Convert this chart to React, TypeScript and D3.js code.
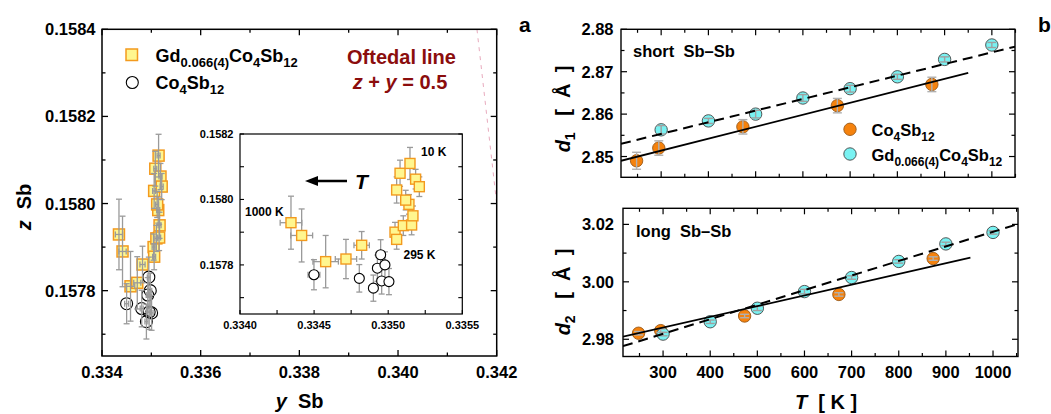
import React from "react";
import * as d3 from "d3";

// ---------- Panel a : positional parameters (y, z) of Sb ----------
const gdY = [0.334344, 0.334416, 0.334578, 0.334715, 0.334821, 0.335046, 0.335057, 0.335102, 0.335158, 0.335167, 0.33514, 0.335118, 0.335057, 0.33508, 0.335147, 0.335185, 0.33521];
const gdZ = [0.157929, 0.15789, 0.15781, 0.157818, 0.15786, 0.1579, 0.157878, 0.15792, 0.157922, 0.15795, 0.157985, 0.157998, 0.158029, 0.15808, 0.15811, 0.158062, 0.158039];
const gdYErr = [0.000073, 0.000074, 0.000086, 0.000072, 0.000052, 0.00003, 0.00003, 0.00003, 0.00003, 0.00003, 0.00003, 0.00003, 0.00003, 0.00003, 0.00003, 0.00003, 0.00003];
const gdZErr = [0.000081, 0.000081, 0.00008, 0.00006, 0.000042, 0.00003, 0.00003, 0.00003, 0.00003, 0.00003, 0.00003, 0.00003, 0.00004, 0.00004, 0.000049, 0.00003, 0.00003];

const coY = [0.334499, 0.334805, 0.3349, 0.334949, 0.334927, 0.334978, 0.334956, 0.335005];
const coZ = [0.15777, 0.157759, 0.157729, 0.157831, 0.15779, 0.1578, 0.157751, 0.157749];
const coYErr = [0.00004, 0.00003, 0.00003, 0.00003, 0.00003, 0.00003, 0.00003, 0.00003];
const coZErr = [0.000046, 0.000042, 0.00004, 0.000046, 0.00004, 0.00004, 0.00004, 0.00004];

const oftedalY = [0.3416, 0.342]; // z + y = 0.5
const oftedalZ = [0.1584, 0.158];

// ---------- Panel b : Sb–Sb distances ----------
const tCo = [248, 295, 473, 673, 873];
const d1Co = [2.849, 2.852, 2.857, 2.862, 2.867];
const d1CoErr = [0.002, 0.0017, 0.0017, 0.0017, 0.0017];
const d2Co = [2.9821, 2.983, 2.9881, 2.9956, 3.0081];
const d2CoErr = [0.0006, 0.0006, 0.0006, 0.0006, 0.0006];

const tGd = [300, 400, 500, 600, 700, 800, 900, 1000];
const d1Gd = [2.8563, 2.8584, 2.86, 2.8638, 2.866, 2.8688, 2.8729, 2.8763];
const d1GdErr = [0.001, 0.0006, 0.0009, 0.0008, 0.0008, 0.0006, 0.0006, 0.0006];
const d2Gd = [2.9818, 2.9861, 2.9908, 2.9966, 3.0015, 3.0071, 3.0132, 3.0172];
const d2GdErr = [0.0006, 0.0006, 0.0008, 0.0008, 0.0006, 0.0006, 0.0006, 0.0006];

const fit1CoT = [215, 950];
const fit1CoD = [2.849, 2.8697];
const fit1GdT = [215, 1049];
const fit1GdD = [2.853, 2.8759];
const fit2CoT = [215, 952];
const fit2CoD = [2.9809, 3.0084];
const fit2GdT = [215, 1053];
const fit2GdD = [2.9776, 3.0201];

const FONT = "'Liberation Sans', Arial, Helvetica, sans-serif";
const SQ_FILL = "#fff68f";
const SQ_STROKE = "#f39a1e";
const ORANGE = "#f5820d";
const CYAN = "#79f2f2";
const ERR = "#9a9a9a";
const DARKRED = "#8b0d0d";
const NB = "\u00a0";

type Part = { t: string; sub?: boolean; it?: boolean };

function Formula(props: {
  x: number; y: number; parts: Part[]; size: number; subSize: number; shift: number;
  fill?: string; anchor?: string; transform?: string;
}) {
  const { x, y, parts, size, subSize, shift, fill = "#000", anchor = "start", transform } = props;
  let cur = 0;
  return (
    <text x={x} y={y} fontFamily={FONT} fontWeight="bold" fontSize={size} fill={fill}
      textAnchor={anchor} transform={transform}>
      {parts.map((p, i) => {
        const target = p.sub ? shift : 0;
        const dy = target - cur;
        cur = target;
        return (
          <tspan key={i} dy={dy} fontSize={p.sub ? subSize : size} fontStyle={p.it ? "italic" : "normal"}>
            {p.t}
          </tspan>
        );
      })}
    </text>
  );
}

function range(a: number, b: number, step: number) {
  const n = Math.round((b - a) / step);
  return d3.range(0, n + 1).map((i) => +(a + i * step).toFixed(8));
}

function isMult(v: number, m: number) {
  const r = v / m;
  return Math.abs(r - Math.round(r)) < 1e-6;
}

function Ticks(props: {
  xs: d3.ScaleLinear<number, number>; ys: d3.ScaleLinear<number, number>;
  xt: number[]; yt: number[]; xMajor: number; yMajor: number;
  sides: { top?: boolean; bottom?: boolean; left?: boolean; right?: boolean };
  maj?: number; min?: number; sw?: number;
}) {
  const { xs, ys, xt, yt, xMajor, yMajor, sides, maj = 6, min = 3.5, sw = 1.2 } = props;
  const [x0, x1] = xs.range();
  const [y0, y1] = ys.range(); // y0 bottom, y1 top
  const out: React.ReactNode[] = [];
  xt.forEach((v, i) => {
    const px = xs(v);
    const L = isMult(v, xMajor) ? maj : min;
    if (sides.bottom) out.push(<line key={"b" + i} x1={px} x2={px} y1={y0} y2={y0 - L} stroke="#000" strokeWidth={sw} />);
    if (sides.top) out.push(<line key={"t" + i} x1={px} x2={px} y1={y1} y2={y1 + L} stroke="#000" strokeWidth={sw} />);
  });
  yt.forEach((v, i) => {
    const py = ys(v);
    const L = isMult(v, yMajor) ? maj : min;
    if (sides.left) out.push(<line key={"l" + i} x1={x0} x2={x0 + L} y1={py} y2={py} stroke="#000" strokeWidth={sw} />);
    if (sides.right) out.push(<line key={"r" + i} x1={x1} x2={x1 - L} y1={py} y2={py} stroke="#000" strokeWidth={sw} />);
  });
  return <g>{out}</g>;
}

function ErrBar(props: { cx: number; cy: number; ex: number; ey: number; cap: number; color?: string; sw?: number }) {
  const { cx, cy, ex, ey, cap, color = ERR, sw = 1.4 } = props;
  return (
    <g stroke={color} strokeWidth={sw} fill="none">
      {ey > 0 && (
        <>
          <line x1={cx} x2={cx} y1={cy - ey} y2={cy + ey} />
          <line x1={cx - cap} x2={cx + cap} y1={cy - ey} y2={cy - ey} />
          <line x1={cx - cap} x2={cx + cap} y1={cy + ey} y2={cy + ey} />
        </>
      )}
      {ex > 0 && (
        <>
          <line x1={cx - ex} x2={cx + ex} y1={cy} y2={cy} />
          <line x1={cx - ex} x2={cx - ex} y1={cy - cap} y2={cy + cap} />
          <line x1={cx + ex} x2={cx + ex} y1={cy - cap} y2={cy + cap} />
        </>
      )}
    </g>
  );
}

export default function App() {
  // main panel a
  const mX = d3.scaleLinear().domain([0.334, 0.342]).range([102, 496.7]);
  const mY = d3.scaleLinear().domain([0.15765, 0.1584]).range([356, 29.3]);
  // inset
  const iX = d3.scaleLinear().domain([0.334, 0.3355]).range([240, 462.3]);
  const iY = d3.scaleLinear().domain([0.15765, 0.1582]).range([314, 134]);
  // panel b
  const bX1 = d3.scaleLinear().domain([215, 1049]).range([621, 1015]);
  const bY1 = d3.scaleLinear().domain([2.8451, 2.88]).range([177.3, 29.3]);
  const bX2 = d3.scaleLinear().domain([215, 1053]).range([623, 1018]);
  const bY2 = d3.scaleLinear().domain([2.974, 3.0256]).range([356.5, 208.3]);

  const mainXT = range(0.334, 0.342, 0.001);
  const mainYT = range(0.1577, 0.1584, 0.0001);
  const insXT = range(0.334, 0.3355, 0.00025);
  const insYT = range(0.1577, 0.1582, 0.0001);
  const bXT = range(250, 1050, 50);
  const b1YT = range(2.85, 2.88, 0.005);
  const b2YT = range(2.98, 3.02, 0.01);

  const lineGen = (xs: d3.ScaleLinear<number, number>, ys: d3.ScaleLinear<number, number>) =>
    d3.line<[number, number]>().x((d) => xs(d[0])).y((d) => ys(d[1]));

  const zipPts = (a: number[], b: number[]) => a.map((v, i) => [v, b[i]] as [number, number]);

  const boxRect = (xs: d3.ScaleLinear<number, number>, ys: d3.ScaleLinear<number, number>, sw: number) => {
    const [x0, x1] = xs.range();
    const [y0, y1] = ys.range();
    return <rect x={x0} y={y1} width={x1 - x0} height={y0 - y1} fill="none" stroke="#000" strokeWidth={sw} />;
  };

  const gdName: Part[] = [{ t: "Gd" }, { t: "0.066(4)", sub: true }, { t: "Co" }, { t: "4", sub: true }, { t: "Sb" }, { t: "12", sub: true }];
  const coName: Part[] = [{ t: "Co" }, { t: "4", sub: true }, { t: "Sb" }, { t: "12", sub: true }];
  const unitA = NB + NB + NB + "[" + NB + NB + "\u00c5" + NB + NB + "]";

  return (
    <div style={{ position: "fixed", left: 0, top: 0 }}>
      <svg width={1051} height={414} viewBox="0 0 1051 414" style={{ display: "block", background: "#fff" }}>
        <defs>
          <clipPath id="mainClip">
            <rect x={102} y={29.3} width={394.7} height={326.7} />
          </clipPath>
          <clipPath id="b1Clip">
            <rect x={621} y={29.3} width={394} height={148} />
          </clipPath>
          <clipPath id="b2Clip">
            <rect x={623} y={208.3} width={395} height={148.2} />
          </clipPath>
        </defs>

        {/* ================= Panel a ================= */}
        <path
          d={lineGen(mX, mY)(zipPts(oftedalY, oftedalZ)) || ""}
          stroke="#e8aabd" strokeWidth={1} strokeDasharray="4 5" fill="none" clipPath="url(#mainClip)"
        />
        {gdY.map((v, i) => (
          <rect key={"ms" + i} x={mX(v) - 5.5} y={mY(gdZ[i]) - 5.5} width={11} height={11}
            fill={SQ_FILL} stroke={SQ_STROKE} strokeWidth={1.5} />
        ))}
        {coY.map((v, i) => (
          <circle key={"mc" + i} cx={mX(v)} cy={mY(coZ[i])} r={6} fill="none" stroke="#000" strokeWidth={1.1} />
        ))}
        {gdY.map((v, i) => (
          <ErrBar key={"mse" + i} cx={mX(v)} cy={mY(gdZ[i])}
            ex={mX(v + gdYErr[i]) - mX(v)} ey={mY(gdZ[i]) - mY(gdZ[i] + gdZErr[i])} cap={3} sw={1.3} />
        ))}
        {coY.map((v, i) => (
          <ErrBar key={"mce" + i} cx={mX(v)} cy={mY(coZ[i])}
            ex={mX(v + coYErr[i]) - mX(v)} ey={mY(coZ[i]) - mY(coZ[i] + coZErr[i])} cap={3} sw={1.3} />
        ))}

        <Ticks xs={mX} ys={mY} xt={mainXT} yt={mainYT} xMajor={0.002} yMajor={0.0002}
          sides={{ top: true, bottom: true, left: true, right: true }} maj={6} min={3.5} sw={1.3} />
        {boxRect(mX, mY, 1.5)}

        {mainXT.filter((v) => isMult(v, 0.002)).map((v, i) => (
          <text key={"mxl" + i} x={mX(v)} y={377.5} textAnchor="middle" fontFamily={FONT} fontWeight="bold" fontSize={16.5}>
            {d3.format(".3f")(v)}
          </text>
        ))}
        {mainYT.filter((v) => isMult(v, 0.0002)).map((v, i) => (
          <text key={"myl" + i} x={95.5} y={mY(v) + 6} textAnchor="end" fontFamily={FONT} fontWeight="bold" fontSize={16.5}>
            {d3.format(".4f")(v)}
          </text>
        ))}

        <text x={299.6} y={408} textAnchor="middle" fontFamily={FONT} fontWeight="bold" fontSize={20}>
          <tspan fontStyle="italic">y</tspan>
          <tspan>{NB + NB + "Sb"}</tspan>
        </text>
        <text transform="translate(31,207) rotate(-90)" textAnchor="middle" fontFamily={FONT} fontWeight="bold" fontSize={20}>
          <tspan fontStyle="italic">z</tspan>
          <tspan>{NB + NB + "Sb"}</tspan>
        </text>
        <text x={519} y={32} fontFamily={FONT} fontWeight="bold" fontSize={21}>a</text>

        {/* legend */}
        <rect x={126} y={49} width={11.5} height={11.5} fill={SQ_FILL} stroke={SQ_STROKE} strokeWidth={1.5} />
        <Formula x={155.6} y={61.5} parts={gdName} size={18} subSize={13} shift={5} />
        <circle cx={132.3} cy={82.5} r={6} fill="none" stroke="#000" strokeWidth={1.1} />
        <Formula x={155.6} y={88.5} parts={coName} size={18} subSize={13} shift={5} />

        <text x={401.5} y={63.5} textAnchor="middle" fontFamily={FONT} fontWeight="bold" fontSize={20} fill={DARKRED}>
          Oftedal line
        </text>
        <text x={400} y={88.5} textAnchor="middle" fontFamily={FONT} fontWeight="bold" fontSize={20} fill={DARKRED}>
          <tspan fontStyle="italic">z</tspan>
          <tspan>{NB + "+" + NB}</tspan>
          <tspan fontStyle="italic">y</tspan>
          <tspan>{NB + "=" + NB + "0.5"}</tspan>
        </text>

        {/* ----- inset ----- */}
        <rect x={240} y={134} width={222.3} height={180} fill="#fff" />
        {gdY.map((v, i) => (
          <ErrBar key={"ise" + i} cx={iX(v)} cy={iY(gdZ[i])}
            ex={iX(v + gdYErr[i]) - iX(v)} ey={iY(gdZ[i]) - iY(gdZ[i] + gdZErr[i])} cap={3} sw={1.3} />
        ))}
        {coY.map((v, i) => (
          <ErrBar key={"ice" + i} cx={iX(v)} cy={iY(coZ[i])}
            ex={iX(v + coYErr[i]) - iX(v)} ey={iY(coZ[i]) - iY(coZ[i] + coZErr[i])} cap={3} sw={1.3} />
        ))}
        {gdY.map((v, i) => (
          <rect key={"is" + i} x={iX(v) - 5} y={iY(gdZ[i]) - 5} width={10} height={10}
            fill={SQ_FILL} stroke={SQ_STROKE} strokeWidth={1.4} />
        ))}
        {coY.map((v, i) => (
          <circle key={"ic" + i} cx={iX(v)} cy={iY(coZ[i])} r={5} fill="#fff" stroke="#000" strokeWidth={1.1} />
        ))}
        <Ticks xs={iX} ys={iY} xt={insXT} yt={insYT} xMajor={0.0005} yMajor={0.0002}
          sides={{ bottom: true, left: true, right: true }} maj={4} min={4} sw={1.1} />
        {boxRect(iX, iY, 1.2)}
        {insXT.filter((v) => isMult(v, 0.0005)).map((v, i) => (
          <text key={"ixl" + i} x={iX(v)} y={328.5} textAnchor="middle" fontFamily={FONT} fontWeight="bold" fontSize={11}>
            {d3.format(".4f")(v)}
          </text>
        ))}
        {insYT.filter((v) => isMult(v, 0.0002)).map((v, i) => (
          <text key={"iyl" + i} x={233.5} y={iY(v) + 4} textAnchor="end" fontFamily={FONT} fontWeight="bold" fontSize={11}>
            {d3.format(".4f")(v)}
          </text>
        ))}
        <line x1={347} x2={314} y1={181} y2={181} stroke="#000" strokeWidth={2.6} />
        <polygon points="305,181 318,176 318,186" fill="#000" />
        <text x={355} y={188.5} fontFamily={FONT} fontWeight="bold" fontStyle="italic" fontSize={21}>T</text>
        <text x={245} y={215.5} fontFamily={FONT} fontWeight="bold" fontSize={12}>{"1000" + NB + "K"}</text>
        <text x={421} y={156} fontFamily={FONT} fontWeight="bold" fontSize={12}>{"10" + NB + "K"}</text>
        <text x={403.5} y={258.5} fontFamily={FONT} fontWeight="bold" fontSize={12}>{"295" + NB + "K"}</text>

        {/* ================= Panel b (top: d1) ================= */}
        {tCo.map((t, i) => (
          <circle key={"o1" + i} cx={bX1(t)} cy={bY1(d1Co[i])} r={6.2} fill={ORANGE} stroke="#9a5a1a" strokeWidth={0.9} />
        ))}
        {tGd.map((t, i) => (
          <circle key={"c1" + i} cx={bX1(t)} cy={bY1(d1Gd[i])} r={6.2} fill={CYAN} stroke="#444" strokeWidth={0.9} />
        ))}
        {tCo.map((t, i) => (
          <ErrBar key={"o1e" + i} cx={bX1(t)} cy={bY1(d1Co[i])} ex={0} ey={bY1(d1Co[i]) - bY1(d1Co[i] + d1CoErr[i])} cap={4.5} color="#b0b0b0" sw={1.4} />
        ))}
        {tGd.map((t, i) => (
          <ErrBar key={"c1e" + i} cx={bX1(t)} cy={bY1(d1Gd[i])} ex={0} ey={bY1(d1Gd[i]) - bY1(d1Gd[i] + d1GdErr[i])} cap={4.5} color="#a0a0a0" sw={1.4} />
        ))}
        <g clipPath="url(#b1Clip)">
          <path d={lineGen(bX1, bY1)(zipPts(fit1CoT, fit1CoD)) || ""} stroke="#000" strokeWidth={1.8} fill="none" />
          <path d={lineGen(bX1, bY1)(zipPts(fit1GdT, fit1GdD)) || ""} stroke="#000" strokeWidth={2} fill="none" strokeDasharray="10 6" />
        </g>
        <Ticks xs={bX1} ys={bY1} xt={bXT} yt={b1YT} xMajor={100} yMajor={0.01}
          sides={{ top: true, bottom: true, left: true, right: true }} maj={6} min={3.5} sw={1.2} />
        {boxRect(bX1, bY1, 1.4)}
        {b1YT.filter((v) => isMult(v, 0.01)).map((v, i) => (
          <text key={"b1y" + i} x={613.5} y={bY1(v) + 6} textAnchor="end" fontFamily={FONT} fontWeight="bold" fontSize={16.5}>
            {d3.format(".2f")(v)}
          </text>
        ))}
        <text x={633} y={57} fontFamily={FONT} fontWeight="bold" fontSize={16.5}>{"short" + NB + NB + "Sb\u2013Sb"}</text>
        <circle cx={850} cy={129.3} r={6.2} fill={ORANGE} stroke="#9a5a1a" strokeWidth={0.9} />
        <Formula x={871.5} y={136} parts={coName} size={16.5} subSize={12} shift={5} />
        <circle cx={850} cy={154} r={6.2} fill={CYAN} stroke="#444" strokeWidth={0.9} />
        <Formula x={871.5} y={161} parts={gdName} size={16.5} subSize={12} shift={5} />
        <Formula x={570} y={109}
          parts={[{ t: "d", it: true }, { t: "1", sub: true }, { t: unitA }]}
          size={20} subSize={14} shift={5} anchor="middle" transform="rotate(-90 570 109)" />
        <text x={1038} y={32} fontFamily={FONT} fontWeight="bold" fontSize={21}>b</text>

        {/* ================= Panel b (bottom: d2) ================= */}
        {tCo.map((t, i) => (
          <circle key={"o2" + i} cx={bX2(t)} cy={bY2(d2Co[i])} r={6.2} fill={ORANGE} stroke="#9a5a1a" strokeWidth={0.9} />
        ))}
        {tGd.map((t, i) => (
          <circle key={"c2" + i} cx={bX2(t)} cy={bY2(d2Gd[i])} r={6.2} fill={CYAN} stroke="#444" strokeWidth={0.9} />
        ))}
        {tCo.map((t, i) => (
          <ErrBar key={"o2e" + i} cx={bX2(t)} cy={bY2(d2Co[i])} ex={0} ey={bY2(d2Co[i]) - bY2(d2Co[i] + d2CoErr[i])} cap={4.5} color="#b0b0b0" sw={1.4} />
        ))}
        {tGd.map((t, i) => (
          <ErrBar key={"c2e" + i} cx={bX2(t)} cy={bY2(d2Gd[i])} ex={0} ey={bY2(d2Gd[i]) - bY2(d2Gd[i] + d2GdErr[i])} cap={4.5} color="#a0a0a0" sw={1.4} />
        ))}
        <g clipPath="url(#b2Clip)">
          <path d={lineGen(bX2, bY2)(zipPts(fit2CoT, fit2CoD)) || ""} stroke="#000" strokeWidth={1.8} fill="none" />
          <path d={lineGen(bX2, bY2)(zipPts(fit2GdT, fit2GdD)) || ""} stroke="#000" strokeWidth={2} fill="none" strokeDasharray="10 6" />
        </g>
        <Ticks xs={bX2} ys={bY2} xt={bXT} yt={b2YT} xMajor={100} yMajor={0.02}
          sides={{ top: true, bottom: true, left: true, right: true }} maj={6} min={3.5} sw={1.2} />
        {boxRect(bX2, bY2, 1.4)}
        {b2YT.filter((v) => isMult(v, 0.02)).map((v, i) => (
          <text key={"b2y" + i} x={614} y={bY2(v) + 6} textAnchor="end" fontFamily={FONT} fontWeight="bold" fontSize={16.5}>
            {d3.format(".2f")(v)}
          </text>
        ))}
        {bXT.filter((v) => isMult(v, 100) && v >= 300).map((v, i) => (
          <text key={"b2x" + i} x={bX2(v)} y={377.5} textAnchor="middle" fontFamily={FONT} fontWeight="bold" fontSize={16.5}>
            {v}
          </text>
        ))}
        <text x={636} y={237} fontFamily={FONT} fontWeight="bold" fontSize={16.5}>{"long" + NB + NB + "Sb\u2013Sb"}</text>
        <Formula x={570} y={292}
          parts={[{ t: "d", it: true }, { t: "2", sub: true }, { t: unitA }]}
          size={20} subSize={14} shift={5} anchor="middle" transform="rotate(-90 570 292)" />
        <text x={826} y={409} textAnchor="middle" fontFamily={FONT} fontWeight="bold" fontSize={20}>
          <tspan fontStyle="italic">T</tspan>
          <tspan>{NB + NB + "[" + NB + "K" + NB + "]"}</tspan>
        </text>
      </svg>
    </div>
  );
}
